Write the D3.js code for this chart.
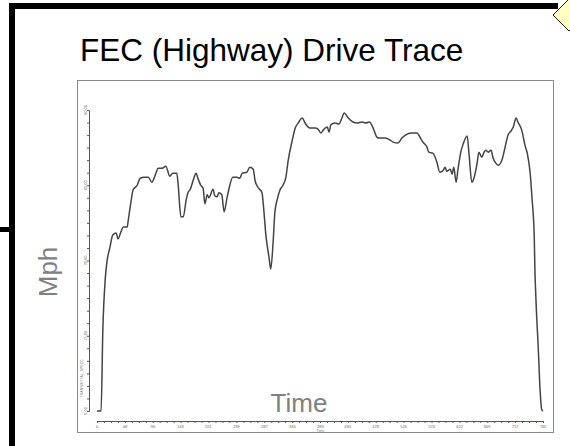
<!DOCTYPE html>
<html>
<head>
<meta charset="utf-8">
<script src="https://cdn.jsdelivr.net/npm/d3@7"></script>
<style>
  html, body { margin: 0; padding: 0; background: #fff; }
  svg { display: block; font-family: "Liberation Sans", Arial, sans-serif; }
</style>
</head>
<body>
<svg id="chart" width="570" height="446"></svg>
<script>
// Highway drive cycle: elapsed time (s) and vehicle speed (mph)
const timeSec = [0, 7, 10, 14, 17, 22, 27, 33, 36, 41, 45, 52, 53, 58, 62, 69, 74, 81, 88, 94,
  101, 105, 112, 118, 125, 130, 137, 139, 144, 148, 153, 156, 160, 165, 170, 173, 178, 182, 185, 189,
  192, 199, 202, 206, 209, 214, 218, 223, 226, 233, 240, 245, 249, 257, 262, 268, 271, 276, 283, 285,
  290, 295, 298, 302, 305, 309, 314, 319, 324, 328, 335, 340, 345, 352, 357, 365, 374, 379, 384, 388,
  395, 398, 401, 408, 415, 420, 424, 431, 439, 446, 455, 461, 467, 473, 480, 484, 494, 503, 508, 516,
  523, 532, 540, 549, 554, 559, 566, 569, 576, 583, 588, 594, 597, 600, 606, 609, 612, 616, 619, 624,
  628, 635, 638, 643, 647, 652, 655, 660, 664, 667, 671, 676, 679, 684, 688, 695, 700, 705, 710, 714,
  719, 722, 729, 734, 738, 743, 746, 750, 751, 753, 757, 760, 763, 765];
const speedMph = [0, 0, 16.1, 26.1, 29.7, 32.5, 35.1, 35.5, 34.3, 35.7, 36.7, 36.7, 37.5, 41.5, 44.1, 45.0, 46.4, 46.6, 46.6, 45.6,
  47.4, 48.4, 48.4, 48.8, 46.8, 47.4, 47.4, 45.4, 38.7, 38.7, 42.1, 43.5, 44.2, 46.0, 47.4, 46.4, 45.0, 44.4, 41.3, 43.1,
  42.5, 44.2, 42.9, 42.7, 43.5, 43.1, 39.7, 42.5, 44.1, 46.6, 46.6, 46.4, 47.4, 47.6, 48.6, 48.2, 46.0, 44.6, 43.5, 41.5,
  34.7, 30.7, 28.3, 33.5, 39.5, 42.1, 44.1, 45.0, 46.6, 50.0, 54.0, 56.4, 57.4, 58.4, 57.4, 56.4, 56.4, 56.2, 55.4, 56.0,
  56.6, 55.6, 57.0, 57.4, 57.2, 58.4, 59.4, 58.4, 57.6, 57.4, 57.6, 57.4, 57.6, 56.6, 54.6, 54.4, 54.4, 54.0, 53.6, 53.4,
  54.4, 55.2, 55.4, 55.4, 54.6, 53.6, 52.6, 51.6, 51.4, 49.6, 47.6, 48.0, 48.6, 47.8, 48.2, 47.2, 48.6, 45.6, 48.0, 51.6,
  53.2, 54.8, 51.4, 45.6, 46.6, 49.4, 51.6, 50.6, 51.6, 52.0, 51.6, 52.0, 50.6, 49.4, 49.0, 50.2, 52.6, 55.0, 55.8, 56.6,
  58.4, 57.6, 55.8, 53.0, 51.4, 47.4, 42.7, 34.7, 28.7, 22.0, 12.2, 4.2, 0.2, 0];

const speedTicks = [0, 15, 30, 45, 60];
const timeTicks = [0, 48, 96, 143, 191, 239, 287, 335, 383, 430, 478, 526, 574, 622, 669, 717, 765];

const titleText = "FEC (Highway) Drive Trace";
const xTitle = "Time";
const yTitle = "Mph";
const innerYName = "TRANSMITTAL_SPEED";
const innerXName = "Time";

const svg = d3.select("#chart");

// slide frame: thick black border with a stub on the left and a callout diamond top-right
svg.append("path")
  .attr("d", "M12,446 L12,6 L558,6")
  .attr("fill", "none").attr("stroke", "#000").attr("stroke-width", 6);
svg.append("line")
  .attr("x1", 0).attr("x2", 12).attr("y1", 229.5).attr("y2", 229.5)
  .attr("stroke", "#000").attr("stroke-width", 5);
svg.append("path")
  .attr("d", "M553,15 L569,-1 L585,15 L569,31 Z")
  .attr("fill", "#ffffc4").attr("stroke", "#222").attr("stroke-width", 1);

// title
svg.append("text")
  .attr("x", 80).attr("y", 61)
  .attr("font-size", 31.5).attr("fill", "#000")
  .text(titleText);

// embedded plot frame
svg.append("rect")
  .attr("x", 77.5).attr("y", 80.5).attr("width", 476).attr("height", 352)
  .attr("fill", "#fff").attr("stroke", "#8a8a8a").attr("stroke-width", 1);

const x = d3.scaleLinear().domain([0, 765]).range([97, 543]);
const y = d3.scaleLinear().domain([0, 60]).range([411, 110]);

const plot = svg.append("g");

// y axis with minor ticks
const yMinor = d3.range(0, 60.01, 2.5);
plot.append("g")
  .attr("transform", "translate(89,0)")
  .call(d3.axisLeft(y).tickValues(yMinor).tickSize(2).tickFormat(""))
  .call(g => g.select(".domain").attr("stroke", "#555"))
  .call(g => g.selectAll(".tick line").attr("stroke", "#555"));
plot.append("g")
  .selectAll("text").data(speedTicks).join("text")
  .attr("transform", d => `translate(86.5,${y(d)}) rotate(-90)`)
  .attr("text-anchor", "middle")
  .attr("font-size", 4).attr("fill", "#666")
  .text(d => d.toFixed(2));
plot.append("text")
  .attr("transform", `translate(83,${y(6.5)}) rotate(-90)`)
  .attr("text-anchor", "middle")
  .attr("font-size", 3.5).attr("fill", "#777")
  .text(innerYName);

// x axis with minor ticks
const xMinor = d3.range(0, 64.01).map(i => i * 765 / 64);
plot.append("g")
  .attr("transform", "translate(0,421)")
  .call(d3.axisBottom(x).tickValues(xMinor).tickSize(2).tickFormat(""))
  .call(g => g.select(".domain").attr("stroke", "#555"))
  .call(g => g.selectAll(".tick line").attr("stroke", "#555"));
plot.append("g")
  .selectAll("text").data(timeTicks).join("text")
  .attr("x", d => x(d)).attr("y", 428)
  .attr("text-anchor", "middle")
  .attr("font-size", 4).attr("fill", "#666")
  .text(d => d);
plot.append("text")
  .attr("x", x(383)).attr("y", 431.5)
  .attr("text-anchor", "middle")
  .attr("font-size", 3.5).attr("fill", "#777")
  .text(innerXName);

// speed trace
const pts = timeSec.map((t, i) => [t, speedMph[i]]);
plot.append("path")
  .datum(pts)
  .attr("fill", "none")
  .attr("stroke", "#444")
  .attr("stroke-width", 1.5)
  .attr("stroke-linejoin", "round")
  .attr("d", d3.line().curve(d3.curveMonotoneX).x(d => x(d[0])).y(d => y(d[1])));

// large axis titles
svg.append("text")
  .attr("x", 299).attr("y", 412)
  .attr("text-anchor", "middle")
  .attr("font-size", 26).attr("fill", "#808080")
  .text(xTitle);
svg.append("text")
  .attr("transform", "translate(57,272) rotate(-90)")
  .attr("text-anchor", "middle")
  .attr("font-size", 26).attr("fill", "#808080")
  .text(yTitle);
</script>
</body>
</html>
